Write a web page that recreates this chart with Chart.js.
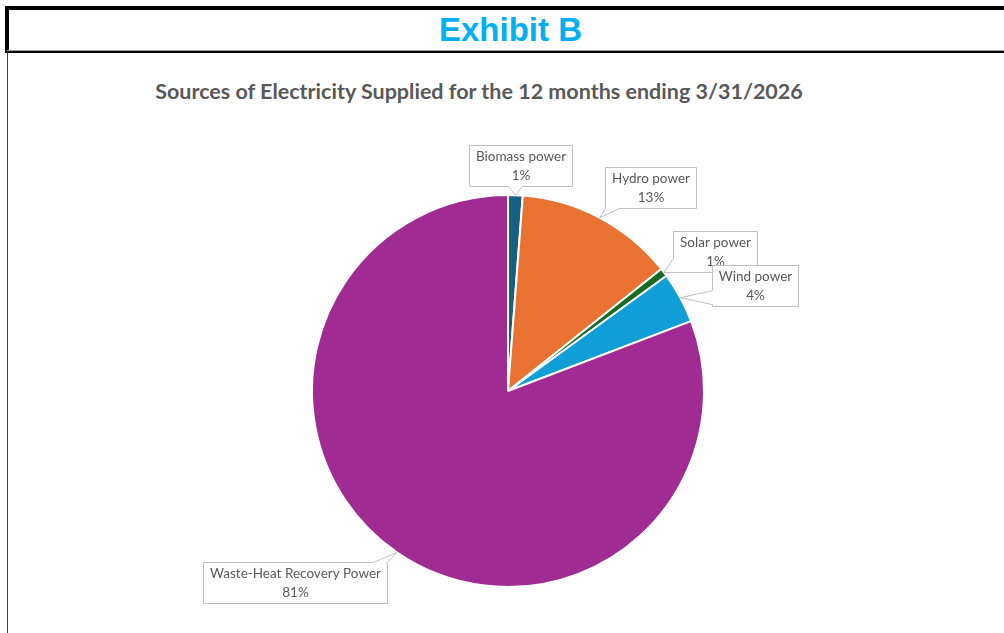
<!DOCTYPE html>
<html lang="en">
<head>
    <meta charset="UTF-8">
    <title>Exhibit B</title>
    <script src="https://cdn.jsdelivr.net/npm/chart.js"></script>
    <style>
        body {
            margin: 0;
            padding: 0;
            background-color: #ffffff;
            width: 1004px;
            height: 633px;
            overflow: hidden;
            position: relative;
        }

        /* header frame: thick black top + left, grey/black rule under it */
        .exhibit {
            position: absolute;
            left: 5px;
            top: 6px;
            right: 0;
            height: 40px;
            border-top: 4px solid #000;
            border-left: 4px solid #000;
            border-bottom: 1px solid #a6a6a6;
            text-align: center;
            font-family: 'Liberation Sans', Arial, sans-serif;
            font-weight: bold;
            font-size: 33px;
            line-height: 40px;
            color: #00b0f0;
        }

        .exhibit span {
            position: relative;
            left: 4px;
        }

        .rule {
            position: absolute;
            left: 5px;
            right: 0;
            top: 51px;
            height: 2px;
            background: #000;
        }

        .side {
            position: absolute;
            left: 7px;
            top: 52px;
            bottom: 0;
            width: 1px;
            background: #404040;
        }

        .chart-title {
            position: absolute;
            left: 0;
            width: 958px;
            top: 78px;
            text-align: center;
            font-family: 'Lato', sans-serif;
            font-weight: bold;
            font-size: 21.5px;
            line-height: 26px;
            color: #595959;
        }

        .chart-box {
            position: absolute;
            left: 0;
            top: 0;
            width: 1004px;
            height: 633px;
        }
    </style>
</head>
<body>
    <div class="exhibit"><span>Exhibit B</span></div>
    <div class="rule"></div>
    <div class="side"></div>
    <div class="chart-title">Sources of Electricity Supplied for the 12 months ending 3/31/2026</div>

    <div class="chart-box">
        <canvas id="chart"></canvas>
    </div>

    <script>
        const sources = ['Biomass power', 'Hydro power', 'Solar power', 'Wind power', 'Waste-Heat Recovery Power'];
        const shares = [1.2, 13.1, 0.7, 4.2, 80.8];
        const sliceColors = ['#156082', '#e97132', '#196b24', '#0f9ed5', '#a02b93'];

        // where each callout box sits, relative to the middle of its slice's rim
        const calloutOffsets = [[5, -30], [51, -30], [51, -21], [75, -12], [-102, 30]];

        function calloutPath(ctx, l, t, w, h, px, py) {
            const r = l + w, b = t + h, tail = 14;
            const over = {
                left: l - px, right: px - r, top: t - py, bottom: py - b
            };
            let edge = 'none', best = 0;
            for (const k in over) {
                if (over[k] > best) { best = over[k]; edge = k; }
            }
            const cx = (v, lo, hi) => Math.min(Math.max(v, lo), hi);
            ctx.beginPath();
            ctx.moveTo(l, t);
            if (edge === 'top') {
                const x1 = cx(px - tail / 2, l, r - tail);
                ctx.lineTo(x1, t); ctx.lineTo(px, py); ctx.lineTo(x1 + tail, t);
            }
            ctx.lineTo(r, t);
            if (edge === 'right') {
                const y1 = cx(py - tail / 2, t, b - tail);
                ctx.lineTo(r, y1); ctx.lineTo(px, py); ctx.lineTo(r, y1 + tail);
            }
            ctx.lineTo(r, b);
            if (edge === 'bottom') {
                const x1 = cx(px - tail / 2, l, r - tail);
                ctx.lineTo(x1 + tail, b); ctx.lineTo(px, py); ctx.lineTo(x1, b);
            }
            ctx.lineTo(l, b);
            if (edge === 'left') {
                const y1 = cx(py - tail / 2, t, b - tail);
                ctx.lineTo(l, y1 + tail); ctx.lineTo(px, py); ctx.lineTo(l, y1);
            }
            ctx.closePath();
        }

        const calloutLabels = {
            id: 'calloutLabels',
            afterDatasetsDraw(chart) {
                const ctx = chart.ctx;
                const arcs = chart.getDatasetMeta(0).data;
                const total = shares.reduce((a, v) => a + v, 0);
                ctx.save();
                ctx.font = '13.5px Lato, sans-serif';
                ctx.textAlign = 'center';
                ctx.textBaseline = 'middle';
                arcs.forEach((arc, i) => {
                    const p = arc.getProps(['x', 'y', 'startAngle', 'endAngle', 'outerRadius'], true);
                    const mid = (p.startAngle + p.endAngle) / 2;
                    const px = p.x + Math.cos(mid) * p.outerRadius;
                    const py = p.y + Math.sin(mid) * p.outerRadius;
                    const line1 = sources[i];
                    const line2 = Math.round(shares[i] / total * 100) + '%';
                    const w = Math.round(Math.max(ctx.measureText(line1).width, ctx.measureText(line2).width) + 13);
                    const h = 41;
                    const bx = px + calloutOffsets[i][0];
                    const by = py + calloutOffsets[i][1];
                    const l = Math.round(bx - w / 2) + 0.5;
                    const t = Math.round(by - h / 2) + 0.5;
                    calloutPath(ctx, l, t, w, h, px, py);
                    ctx.fillStyle = '#ffffff';
                    ctx.fill();
                    ctx.strokeStyle = '#bfbfbf';
                    ctx.lineWidth = 1;
                    ctx.stroke();
                    ctx.fillStyle = '#595959';
                    ctx.fillText(line1, l + w / 2, t + h / 2 - 9.5);
                    ctx.fillText(line2, l + w / 2, t + h / 2 + 9.5);
                });
                ctx.restore();
            }
        };

        new Chart(document.getElementById('chart'), {
            type: 'pie',
            data: {
                labels: sources,
                datasets: [{
                    data: shares,
                    backgroundColor: sliceColors,
                    borderColor: '#ffffff',
                    borderWidth: 2
                }]
            },
            options: {
                responsive: true,
                maintainAspectRatio: false,
                animation: false,
                radius: 196,
                layout: {
                    padding: { left: 308, right: 296, top: 191, bottom: 42 }
                },
                plugins: {
                    legend: { display: false },
                    tooltip: { enabled: false }
                }
            },
            plugins: [calloutLabels]
        });
    </script>
</body>
</html>
